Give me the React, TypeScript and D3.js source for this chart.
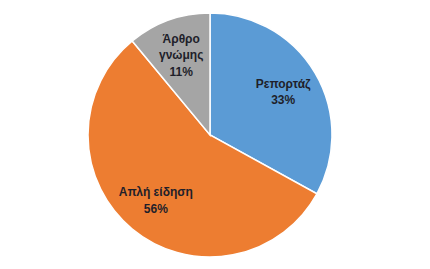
import React from "react";
import * as d3 from "d3";

const categories = ["Ρεπορτάζ", "Απλή είδηση", "Άρθρο γνώμης"];
const labelLines = [["Ρεπορτάζ"], ["Απλή είδηση"], ["Άρθρο", "γνώμης"]];
const values = [33, 56, 11];
const colors = ["#5B9BD5", "#ED7D31", "#A5A5A5"];

const W = 430;
const H = 269;
const CX = 210;
const CY = 135;
const R = 122;
const LABEL_R = 85;

export default function App() {
  const pie = d3.pie<number>().sort(null).value((d) => d)(values);
  const arc = d3.arc<d3.PieArcDatum<number>>().innerRadius(0).outerRadius(R);
  const lineH = 16.5;
  return (
    <svg
      width={W}
      height={H}
      style={{ position: "absolute", left: 0, top: 0, background: "#fff" }}
      fontFamily="'Liberation Sans', Arial, sans-serif"
    >
      <g transform={`translate(${CX},${CY})`}>
        {pie.map((p, i) => (
          <path key={categories[i]} d={arc(p) || ""} fill={colors[i]} stroke="#fff" strokeWidth={1.5} />
        ))}
        {pie.map((p, i) => {
          const a = (p.startAngle + p.endAngle) / 2;
          const x = LABEL_R * Math.sin(a);
          const y = -LABEL_R * Math.cos(a);
          const lines = [...labelLines[i], `${values[i]}%`];
          const y0 = y - ((lines.length - 1) * lineH) / 2;
          return (
            <text
              key={"l" + i}
              textAnchor="middle"
              fontSize={12}
              fontWeight="bold"
              fill="#1f1f2a"
            >
              {lines.map((t, j) => (
                <tspan key={j} x={x} y={y0 + j * lineH} dy="0.35em">
                  {t}
                </tspan>
              ))}
            </text>
          );
        })}
      </g>
    </svg>
  );
}
